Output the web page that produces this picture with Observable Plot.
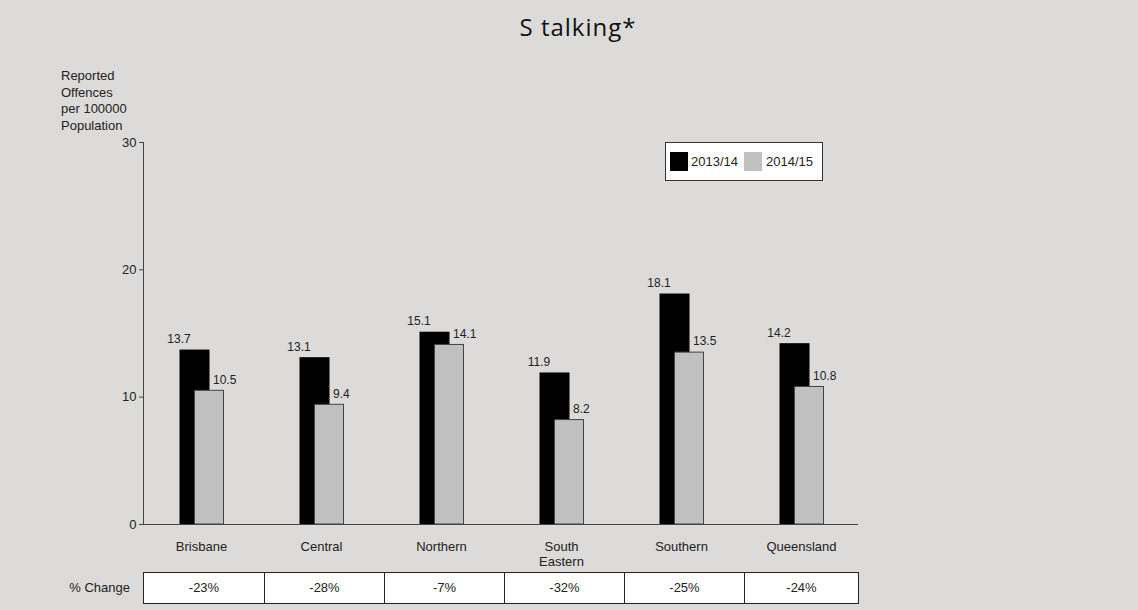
<!DOCTYPE html>
<html>
<head>
<meta charset="utf-8">
<script src="https://cdn.jsdelivr.net/npm/d3@7"></script>
<script src="https://cdn.jsdelivr.net/npm/@observablehq/plot@0.6"></script>
<style>
  html, body { margin: 0; padding: 0; background: #dcdbd9; }
  body { width: 1138px; height: 610px; overflow: hidden; position: relative; font-family: "Liberation Sans", Arial, sans-serif; color: #222; }
  #title { position: absolute; left: 0; top: 0; width: 1138px; height: 60px; }
  #title span { position: absolute; left: 578px; top: 26px; transform: translate(-50%, -50%); font-family: "Open Sans", sans-serif; font-size: 24px; letter-spacing: 1px; color: #111; white-space: pre; }
  #chart { position: absolute; left: 0; top: 60px; }
  #ytitle { position: absolute; left: 61px; top: 68px; font-size: 13px; line-height: 16.5px; }
  #legend { position: absolute; left: 665px; top: 142px; width: 156px; height: 37px; background: #fff; border: 1px solid #333; box-sizing: content-box; }
  .sw { position: absolute; top: 9px; width: 18px; height: 19px; }
  .lt { position: absolute; top: 11px; font-size: 13px; line-height: 15px; }
  #pcl { position: absolute; right: calc(1138px - 130px); top: 580px; font-size: 13px; line-height: 16px; }
  #table { position: absolute; left: 143px; top: 572px; display: flex; border: 1px solid #222; background: #fff; }
  #table div { width: 119px; height: 30px; line-height: 30px; text-align: center; font-size: 13px; border-left: 1px solid #222; }
  #table div:first-child { border-left: none; width: 120px; }
  #table div:last-child { width: 113px; }
</style>
</head>
<body>
<div id="title"><span></span></div>
<div id="ytitle"></div>
<div id="chart"></div>
<div id="legend"></div>
<div id="pcl">% Change</div>
<div id="table"></div>
<script>
const titleText = "S talking*";
const yTitleLines = ["Reported", "Offences", "per 100000", "Population"];
const categories = ["Brisbane", "Central", "Northern", "South Eastern", "Southern", "Queensland"];
const series = ["2013/14", "2014/15"];
const values1314 = [13.7, 13.1, 15.1, 11.9, 18.1, 14.2];
const values1415 = [10.5, 9.4, 14.1, 8.2, 13.5, 10.8];
const pctChange = ["-23%", "-28%", "-7%", "-32%", "-25%", "-24%"];
const yTicks = [0, 10, 20, 30];

document.querySelector("#title span").textContent = titleText;
document.getElementById("ytitle").innerHTML = yTitleLines.join("<br>");

const d1 = categories.map((c, i) => ({cat: c, v: values1314[i]}));
const d2 = categories.map((c, i) => ({cat: c, v: values1415[i]}));

const plot = Plot.plot({
  width: 1138,
  height: 510,
  marginLeft: 143,
  marginRight: 280,
  marginTop: 82,
  marginBottom: 46,
  style: {background: "transparent", fontFamily: "Liberation Sans, Arial, sans-serif", fontSize: "13px", color: "#222"},
  x: {domain: categories, paddingInner: 0.75, paddingOuter: 0.354, label: null},
  y: {domain: [0, 30], label: null},
  marks: [
    Plot.barY(d1, {x: "cat", y: "v", fill: "#000", dx: -6.5}),
    Plot.barY(d2, {x: "cat", y: "v", fill: "#c0c0c0", stroke: "#444", strokeWidth: 1, dx: 8.5, insetRight: 1}),
    Plot.text(d1, {x: "cat", y: "v", text: d => d.v.toFixed(1), dx: -22.5, dy: -11, fontSize: 12, fill: "#222"}),
    Plot.text(d2, {x: "cat", y: "v", text: d => d.v.toFixed(1), dx: 11.5, dy: -11, textAnchor: "start", fontSize: 12, fill: "#222"}),
    Plot.ruleY([0], {stroke: "#444"}),
    Plot.frame({anchor: "left", stroke: "#444"}),
    Plot.axisY({ticks: yTicks, tickSize: 4, tickPadding: 3, label: null, stroke: "#444"}),
    Plot.axisX({tickSize: 0, tickPadding: 16, label: null, lineHeight: 1.15, tickFormat: d => d === "South Eastern" ? "South\nEastern" : d})
  ]
});
document.getElementById("chart").appendChild(plot);

const legend = document.getElementById("legend");
const colors = ["#000", "#c0c0c0"];
const swL = [4, 78], txL = [25, 100];
series.forEach((s, i) => {
  const sw = document.createElement("div");
  sw.className = "sw"; sw.style.left = swL[i] + "px"; sw.style.background = colors[i];
  legend.appendChild(sw);
  const t = document.createElement("div");
  t.className = "lt"; t.style.left = txL[i] + "px"; t.textContent = s;
  legend.appendChild(t);
});

const table = document.getElementById("table");
pctChange.forEach(p => {
  const c = document.createElement("div");
  c.textContent = p;
  table.appendChild(c);
});
</script>
</body>
</html>
